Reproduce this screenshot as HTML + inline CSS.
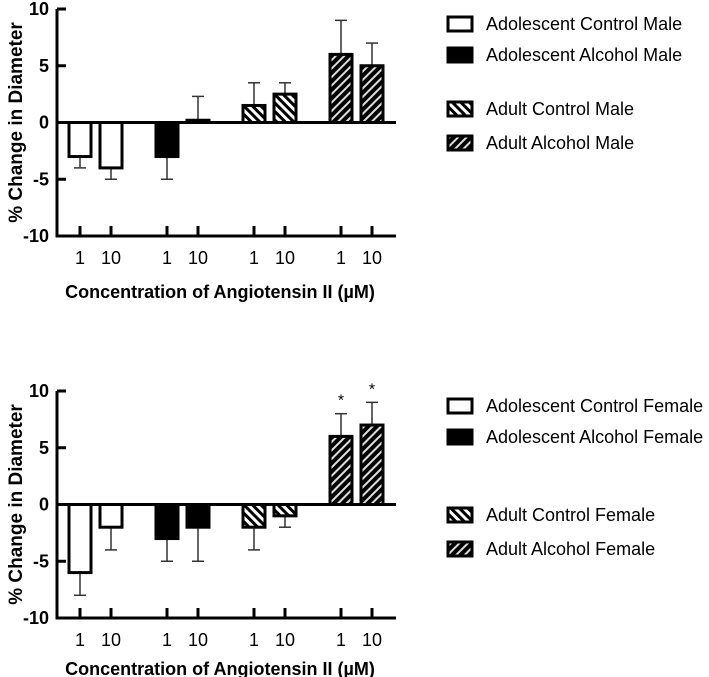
<!DOCTYPE html>
<html><head><meta charset="utf-8"><style>
html,body{margin:0;padding:0;background:#fff;}
svg{display:block;font-family:"Liberation Sans",Arial,sans-serif;}
</style></head><body>
<svg id="s" width="709" height="677" viewBox="0 0 709 677" xmlns="http://www.w3.org/2000/svg">
<defs>
<pattern id="pc" patternUnits="userSpaceOnUse" width="6" height="6" patternTransform="rotate(-45)">
<rect width="6" height="6" fill="#fff"/><rect width="3" height="6" fill="#000"/></pattern>
<pattern id="pa" patternUnits="userSpaceOnUse" width="6" height="6" patternTransform="rotate(45)">
<rect width="6" height="6" fill="#000"/><rect width="2" height="6" fill="#ddd"/></pattern>
</defs>
</svg>
<script>
const tickLabels=["1","10","1","10","1","10","1","10"];
const yTicks=[10,5,0,-10,-5];
const maleValues=[-3,-4,-3,0.2,1.5,2.5,6,5];
const maleErrors=[-4,-5,-5,2.3,3.5,3.5,9,7];
const femaleValues=[-6,-2,-3,-2,-2,-1,6,7];
const femaleErrors=[-8,-4,-5,-5,-4,-2,8,9];
const femaleStars=[false,false,false,false,false,false,true,true];
const maleLegend=["Adolescent Control Male","Adolescent Alcohol Male","Adult Control Male","Adult Alcohol Male"];
const femaleLegend=["Adolescent Control Female","Adolescent Alcohol Female","Adult Control Female","Adult Alcohol Female"];
const NS="http://www.w3.org/2000/svg";
const svg=document.getElementById('s');
const fills=["#fff","#000","url(#pc)","url(#pa)"];
const centers=[80,111,167,198,254,285,341,372];
function mk(t,a,p){const e=document.createElementNS(NS,t);for(const k in a)e.setAttribute(k,a[k]);(p||svg).appendChild(e);return e;}
function panel(top,vals,errs,stars,legend,legY,name,titleOff){
  const g=mk('g',{});
  
  
  const y=v=>top+(10-v)*11.35;
  const ax=mk('line',{x1:57,y1:y(10),x2:57,y2:y(-10)+1.5,stroke:'#000','stroke-width':3},g);
  
  
  yTicks.forEach(t=>{
    mk('line',{x1:57,x2:66,y1:y(t),y2:y(t),stroke:'#000','stroke-width':3},g);
    const tx=mk('text',{x:49,y:y(t)+6,'text-anchor':'end','font-size':18,'font-weight':'bold'},g);
    tx.textContent=t;
    
    
  });
  const bx=mk('line',{x1:56,x2:396,y1:y(-10),y2:y(-10),stroke:'#000','stroke-width':3},g);
  
  
  vals.forEach((v,i)=>{
    const cx=centers[i],e=errs[i];
    const el=mk('line',{x1:cx,x2:cx,y1:y(v),y2:y(e),stroke:'#333','stroke-width':1.5},g);
    
    
    mk('line',{x1:cx-6,x2:cx+6,y1:y(e),y2:y(e),stroke:'#333','stroke-width':1.5},g);
    const h=Math.abs(y(v)-y(0));
    const r=mk('rect',{x:cx-11,y:Math.min(y(v),y(0)),width:22,height:Math.max(h,1),fill:fills[Math.floor(i/2)],stroke:'#000','stroke-width':3},g);
    
    
    mk('line',{x1:cx,x2:cx,y1:y(-10)-10,y2:y(-10),stroke:'#000','stroke-width':3},g);
    const tl=mk('text',{x:cx,y:y(-10)+28,'text-anchor':'middle','font-size':18},g);
    tl.textContent=tickLabels[i];
    
    
    if(stars&&stars[i]){const s=mk('text',{x:cx,y:y(e)-8,'text-anchor':'middle','font-size':16},g);s.textContent='*';
      
      }
  });
  mk('line',{x1:57,x2:396,y1:y(0),y2:y(0),stroke:'#000','stroke-width':3},g);
  const xt=mk('text',{x:220,y:y(-10)+titleOff,'text-anchor':'middle','font-size':18,'font-weight':'bold'},g);
  xt.textContent='Concentration of Angiotensin II (µM)';
  
  
  const yt=mk('text',{x:0,y:0,'text-anchor':'middle','font-size':19,'font-weight':'bold',transform:`translate(22,${y(0)}) rotate(-90)`},g);
  yt.textContent='% Change in Diameter';
  
  
  legend.forEach((l,i)=>{
    const ly=legY[i];
    const r=mk('rect',{x:448,y:ly-7,width:24,height:14,fill:fills[i],stroke:'#000','stroke-width':3},g);
    
    
    const t=mk('text',{x:486,y:ly+6,'font-size':18},g);
    t.textContent=l;
    
    
  });
}
panel(9,maleValues,maleErrors,null,maleLegend,[24,55,109,143],'male-chart',62);
panel(391,femaleValues,femaleErrors,femaleStars,femaleLegend,[406,437,515,549],'female-chart',57);
</script>
</body></html>
